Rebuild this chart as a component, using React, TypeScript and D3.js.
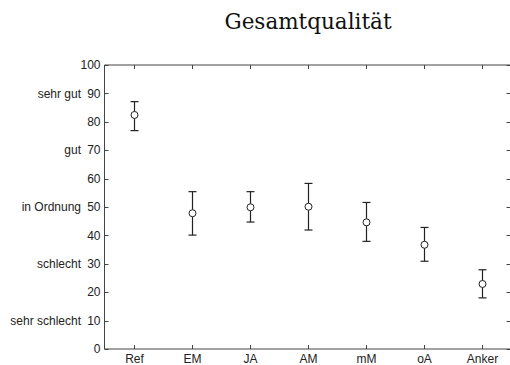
import React from "react";
import * as d3 from "d3";

const categories = ["Ref", "EM", "JA", "AM", "mM", "oA", "Anker"];
const means = [82.4, 47.8, 49.9, 50.1, 44.6, 36.7, 22.9];
const upper = [87.1, 55.4, 55.4, 58.3, 51.6, 42.8, 27.9];
const lower = [76.9, 40.1, 44.7, 41.9, 37.9, 30.9, 18.0];
const yTicks = [0, 10, 20, 30, 40, 50, 60, 70, 80, 90, 100];
const yWordTicks: [number, string][] = [
  [90, "sehr gut"],
  [70, "gut"],
  [50, "in Ordnung"],
  [30, "schlecht"],
  [10, "sehr schlecht"],
];
const title = "Gesamtqualität";

export default function App() {
  const W = 510, H = 365;
  const left = 104.5, right = 510.5, top = 65, bottom = 349;
  const x = d3.scaleLinear().domain([0.5, categories.length + 0.5]).range([left, right]);
  const y = d3.scaleLinear().domain([0, 100]).range([bottom, top]);
  const stroke = "#222";
  const tl = 4;
  const font = "'Liberation Sans', Arial, sans-serif";
  const fs = 12;
  return (
    <svg width={W} height={H} style={{ position: "absolute", left: 0, top: 0, background: "#fff" }}>
      <text x={308} y={29} textAnchor="middle" fontFamily="'DejaVu Serif', serif" fontSize={21.5} fill="#111">
        {title}
      </text>
      <line x1={left} x2={right} y1={bottom} y2={bottom} stroke="#444" strokeWidth={1} />
      <line x1={left} x2={right} y1={top} y2={top} stroke="#444" strokeWidth={1} />
      <line x1={left} x2={left} y1={top} y2={bottom} stroke="#444" strokeWidth={1} />
      <line x1={right} x2={right} y1={top} y2={bottom} stroke="#444" strokeWidth={1} />
      {yTicks.map((t) => (
        <g key={t}>
          <line x1={left} x2={left + tl} y1={Math.round(y(t)) + 0.5} y2={Math.round(y(t)) + 0.5} stroke="#444" />
          <line x1={right - tl} x2={right} y1={Math.round(y(t)) + 0.5} y2={Math.round(y(t)) + 0.5} stroke="#444" />
          <text x={left - 4} y={y(t)} dy="0.35em" textAnchor="end" fontFamily={font} fontSize={fs} fill="#222">
            {t}
          </text>
        </g>
      ))}
      {yWordTicks.map(([t, s]) => (
        <text key={s} x={81} y={y(t)} dy="0.35em" textAnchor="end" fontFamily={font} fontSize={fs} fill="#222">
          {s}
        </text>
      ))}
      {categories.map((c, i) => {
        const cx = Math.round(x(i + 1)) + 0.5;
        return (
          <g key={c}>
            <line x1={cx} x2={cx} y1={bottom} y2={bottom - tl} stroke="#444" />
            <line x1={cx} x2={cx} y1={top} y2={top + tl} stroke="#444" />
            <text x={cx} y={bottom + 14} textAnchor="middle" fontFamily={font} fontSize={fs} fill="#222">
              {c}
            </text>
            <line x1={cx} x2={cx} y1={y(upper[i])} y2={y(lower[i])} stroke={stroke} strokeWidth={1.2} />
            <line x1={cx - 4} x2={cx + 4} y1={y(upper[i])} y2={y(upper[i])} stroke={stroke} strokeWidth={1.2} />
            <line x1={cx - 4} x2={cx + 4} y1={y(lower[i])} y2={y(lower[i])} stroke={stroke} strokeWidth={1.2} />
            <circle cx={cx} cy={y(means[i])} r={3.5} fill="#fff" stroke={stroke} strokeWidth={1} />
          </g>
        );
      })}
    </svg>
  );
}
